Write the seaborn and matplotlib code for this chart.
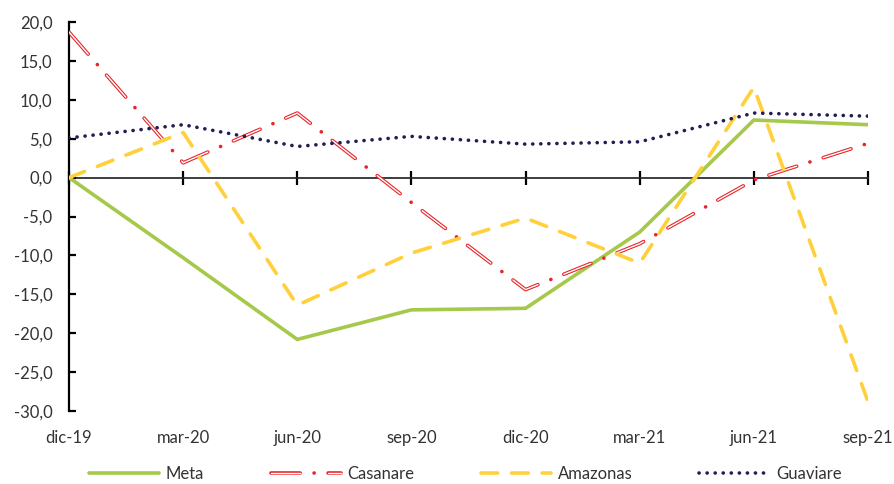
import matplotlib
matplotlib.use("Agg")
import matplotlib.pyplot as plt
from matplotlib.ticker import FuncFormatter, NullFormatter
import seaborn as sns
import pandas as pd

# Data
periods = ["dic-19", "mar-20", "jun-20", "sep-20", "dic-20", "mar-21", "jun-21", "sep-21"]
meta = [0.0, -10.3, -20.8, -17.0, -16.8, -7.0, 7.4, 6.8]
casanare = [18.7, 1.9, 8.3, -3.2, -14.4, -8.5, -0.3, 4.4]
amazonas = [0.0, 5.8, -16.4, -9.7, -5.2, -11.0, 11.6, -28.8]
guaviare = [5.1, 6.8, 4.0, 5.3, 4.3, 4.6, 8.3, 7.9]

df = pd.DataFrame({"x": range(len(periods)), "Meta": meta, "Casanare": casanare,
                   "Amazonas": amazonas, "Guaviare": guaviare})

sns.set_theme(style="white")
plt.rcParams["font.family"] = ["Lato", "DejaVu Sans"]
plt.rcParams["lines.scale_dashes"] = False
text_color = "#333333"

fig = plt.figure(figsize=(8.95, 4.84), dpi=100)
ax = fig.add_axes([69 / 895, 1 - 411 / 484, (868 - 69) / 895, (411 - 22) / 484])

c_meta = "#a6c84b"
c_cas = "#e8262a"
c_ama = "#ffd03a"
c_gua = "#221d52"

sns.lineplot(data=df, x="x", y="Meta", ax=ax, color=c_meta, lw=2.6, zorder=3)
sns.lineplot(data=df, x="x", y="Casanare", ax=ax, color=c_cas, lw=2.6, zorder=4)
sns.lineplot(data=df, x="x", y="Casanare", ax=ax, color="white", lw=1.0, zorder=4)
sns.lineplot(data=df, x="x", y="Amazonas", ax=ax, color=c_ama, lw=2.6, zorder=5)
sns.lineplot(data=df, x="x", y="Guaviare", ax=ax, color=c_gua, lw=2.6, zorder=6)

lines = ax.get_lines()
# red: long dash, gap, dot, gap -- white core covers only the long dash
styles = [None, (0, (21, 10, 0.1, 10)), (0, (21, 20.1)), (0, (12, 10)), (0, (0.1, 5.7))]
for ln, st in zip(lines, styles):
    if st is not None:
        ln.set_linestyle(st)
        ln.set_dash_capstyle("round")
    ln.set_solid_joinstyle("miter")

ax.set_xlim(0, len(periods) - 1)
ax.set_ylim(-30, 20)
ax.set_yticks(range(-30, 21, 5))
ax.yaxis.set_major_formatter(FuncFormatter(lambda v, p: f"{v:.1f}".replace(".", ",")))
ax.set_xticks(range(len(periods)))
ax.set_xticklabels(periods)
ax.set_xlabel("")
ax.set_ylabel("")

for s in ["top", "right", "bottom"]:
    ax.spines[s].set_visible(False)
ax.spines["left"].set_color("black")
ax.spines["left"].set_linewidth(1.6)
ax.tick_params(axis="y", direction="in", length=5, width=1.6, color="black",
               labelsize=12, labelcolor=text_color, pad=12, left=True)
ax.tick_params(axis="x", length=0, labelsize=12, labelcolor=text_color, pad=14)

# zero line with tick marks
zero_ax = ax.secondary_xaxis(30 / 50)
zero_ax.set_xticks(range(len(periods)))
zero_ax.xaxis.set_major_formatter(NullFormatter())
zero_ax.tick_params(axis="x", direction="out", length=5, width=1.6, color="black",
                    bottom=True, labelbottom=False, labeltop=False)
zero_ax.spines["bottom"].set_linewidth(1.6)
zero_ax.spines["bottom"].set_color("black")

handles = [lines[0], (lines[1], lines[2]), lines[3], lines[4]]
labels = ["Meta", "Casanare", "Amazonas", "Guaviare"]
fig.legend(handles, labels, loc="center", bbox_to_anchor=(0.52, 1 - 474 / 484),
           ncol=4, frameon=False, fontsize=12, handlelength=4.2, handletextpad=0.4,
           columnspacing=4.0, labelcolor=text_color)

fig.savefig("out.png", dpi=100)
